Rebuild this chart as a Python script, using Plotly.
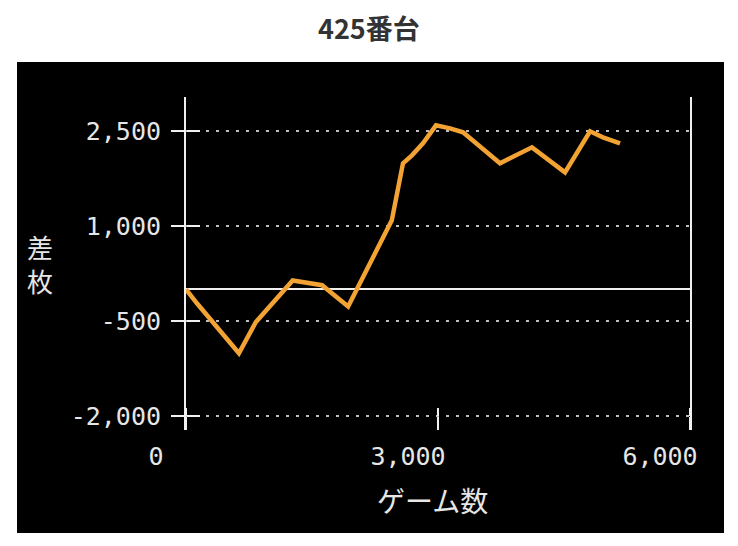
import plotly.graph_objects as go

# Data
games = [0, 130, 630, 830, 1270, 1510, 1620, 1930, 2450, 2583, 2690, 2821, 2976,
         3143, 3298, 3738, 4119, 4512, 4810, 4964, 5167]
diff = [0, -220, -1010, -520, 140, 95, 65, -270, 1090, 1990, 2116, 2305, 2590,
        2542, 2479, 1990, 2242, 1847, 2495, 2400, 2305]

y_ticks = [-2000, -500, 1000, 2500]
y_labels = ["-2,000", "-500", "1,000", "2,500"]
x_ticks = [0, 3000, 6000]
x_labels = ["0", "3,000", "6,000"]

title_text = "<b>425番台</b>"
y_title = "差<br>枚"
x_title = "ゲーム数"

OFF = 8  # page body margin
W, H = 730, 538
L, T = 186 - OFF, 97 - OFF
pw, ph = 504, 333
R = W - L - pw
B = H - T - ph

def px_x(p):
    return (p - OFF - L) / pw

def px_y(p):
    return (H - B - (p - OFF)) / ph

y_range = [-2221, 3037]
x_pos = (-2000 - y_range[0]) / (y_range[1] - y_range[0])

tick_font = dict(family="DejaVu Sans Mono", size=25, color="#e6e6e6")
white = "#f0f0f0"

fig = go.Figure()
fig.add_trace(go.Scatter(x=games, y=diff, mode="lines",
                         line=dict(color="#f2a333", width=4.5),
                         hoverinfo="skip", showlegend=False))
fig.add_trace(go.Scatter(x=[0], y=[0], xaxis="x2", yaxis="y2", mode="markers",
                         marker=dict(opacity=0, size=1),
                         hoverinfo="skip", showlegend=False))

fig.update_layout(
    width=W, height=H,
    margin=dict(l=L, r=R, t=T, b=B),
    paper_bgcolor="white",
    plot_bgcolor="rgba(0,0,0,0)",
    xaxis=dict(range=[0, 6000], domain=[0, 1], anchor="free", position=x_pos,
               tickvals=x_ticks, ticktext=x_labels, ticks="outside", ticklen=13,
               tickwidth=2, tickcolor=white, showline=False, showgrid=False,
               zeroline=False, tickfont=tick_font, ticklabelshift=-30,
               ticklabelstandoff=5),
    xaxis2=dict(overlaying="x", matches="x", anchor="free", position=x_pos,
                side="top", tickvals=x_ticks, ticks="outside", ticklen=8,
                tickwidth=2, tickcolor=white, showticklabels=False,
                showline=False, showgrid=False, zeroline=False),
    yaxis=dict(range=y_range, domain=[0, 1], anchor="x", tickvals=y_ticks,
               ticktext=y_labels, ticks="outside", ticklen=13, tickwidth=2,
               tickcolor=white, showline=True, linecolor=white, linewidth=2,
               mirror=True, showgrid=True, gridcolor="#bdbdbd", gridwidth=2,
               griddash="3px,7px", zeroline=True, zerolinecolor=white,
               zerolinewidth=2, tickfont=tick_font, ticklabelstandoff=5),
    yaxis2=dict(overlaying="y", matches="y", anchor="free", position=0,
                side="right", tickvals=y_ticks, ticks="outside", ticklen=13,
                tickwidth=2, tickcolor=white, showticklabels=False,
                showline=False, showgrid=False, zeroline=False),
    shapes=[dict(type="rect", xref="paper", yref="paper",
                 x0=px_x(17), x1=px_x(724), y0=px_y(533), y1=px_y(62),
                 fillcolor="black", line=dict(width=0), layer="below")],
    annotations=[
        dict(text=title_text, xref="paper", yref="paper", x=px_x(369),
             y=px_y(27), xanchor="center", yanchor="middle", showarrow=False,
             font=dict(family="Noto Sans CJK JP", size=27, color="#333333")),
        dict(text=y_title, xref="paper", yref="paper", x=px_x(40), y=px_y(263),
             xanchor="center", yanchor="middle", showarrow=False,
             font=dict(family="Noto Sans CJK JP", size=26, color="#e6e6e6")),
        dict(text=x_title, xref="paper", yref="paper", x=px_x(432), y=px_y(500),
             xanchor="center", yanchor="middle", showarrow=False,
             font=dict(family="Noto Sans CJK JP", size=28, color="#e6e6e6")),
    ],
)

fig.write_html("out.html")
